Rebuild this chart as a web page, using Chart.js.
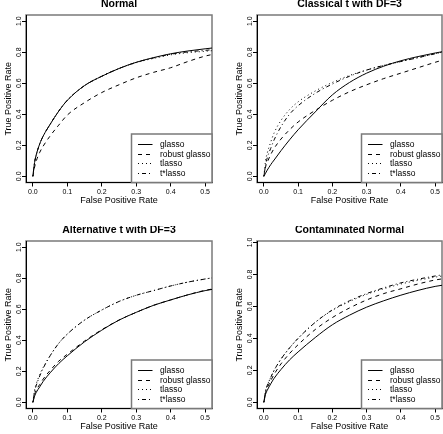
<!DOCTYPE html>
<html>
<head>
<meta charset="utf-8">
<script src="https://cdn.jsdelivr.net/npm/chart.js@4/dist/chart.umd.min.js"></script>
<style>
  body { margin: 0; width: 443px; height: 434px; overflow: hidden; background: #fff; position: relative; }
  .panel { position: absolute; }
</style>
</head>
<body>
<div class="panel" style="left:0px;top:0px"><canvas id="c1" width="222" height="217"></canvas></div>
<div class="panel" style="left:231px;top:0px"><canvas id="c2" width="212" height="217"></canvas></div>
<div class="panel" style="left:0px;top:226px"><canvas id="c3" width="222" height="217"></canvas></div>
<div class="panel" style="left:231px;top:226px"><canvas id="c4" width="212" height="217"></canvas></div>
<script>
// false positive rate grid, shared by all curves
const fpr = [0, 0.005, 0.01, 0.02, 0.03, 0.05, 0.075, 0.1, 0.15, 0.2, 0.25, 0.3, 0.35, 0.4, 0.45, 0.5, 0.52];
const methods = ['glasso', 'robust glasso', 'tlasso', 't*lasso'];
const xTicks = [0, 0.1, 0.2, 0.3, 0.4, 0.5];
const yTicks = [0, 0.2, 0.4, 0.6, 0.8, 1.0];

// Normal
const normalGlasso = [0, 0.09, 0.14, 0.21, 0.26, 0.335, 0.42, 0.49, 0.585, 0.645, 0.695, 0.735, 0.765, 0.79, 0.808, 0.822, 0.827];
const normalRobust = [0, 0.06, 0.1, 0.155, 0.195, 0.26, 0.33, 0.395, 0.475, 0.54, 0.59, 0.635, 0.67, 0.7, 0.74, 0.775, 0.785];
const normalTlasso = [0, 0.09, 0.14, 0.21, 0.26, 0.335, 0.42, 0.49, 0.585, 0.645, 0.695, 0.733, 0.76, 0.783, 0.797, 0.806, 0.81];
const normalTstar = [0, 0.09, 0.14, 0.21, 0.26, 0.335, 0.42, 0.49, 0.585, 0.645, 0.695, 0.735, 0.763, 0.787, 0.802, 0.812, 0.816];

// Classical t with DF=3
const classicGlasso = [0, 0.02, 0.04, 0.075, 0.105, 0.165, 0.235, 0.3, 0.415, 0.525, 0.605, 0.665, 0.71, 0.745, 0.772, 0.795, 0.803];
const classicRobust = [0, 0.06, 0.09, 0.14, 0.18, 0.24, 0.3, 0.35, 0.425, 0.49, 0.545, 0.59, 0.63, 0.665, 0.7, 0.735, 0.748];
const classicTlasso = [0, 0.1, 0.15, 0.22, 0.28, 0.36, 0.43, 0.48, 0.55, 0.605, 0.65, 0.685, 0.715, 0.74, 0.765, 0.79, 0.8];
const classicTstar = [0, 0.07, 0.12, 0.18, 0.235, 0.32, 0.4, 0.455, 0.535, 0.595, 0.645, 0.685, 0.715, 0.74, 0.765, 0.79, 0.8];

// Alternative t with DF=3
const altGlasso = [0, 0.04, 0.065, 0.1, 0.135, 0.19, 0.25, 0.3, 0.39, 0.465, 0.53, 0.58, 0.625, 0.66, 0.693, 0.72, 0.728];
const altRobust = [0, 0.05, 0.08, 0.115, 0.15, 0.205, 0.265, 0.31, 0.395, 0.468, 0.53, 0.58, 0.625, 0.66, 0.693, 0.722, 0.73];
const altTlasso = [0, 0.08, 0.12, 0.18, 0.225, 0.3, 0.38, 0.44, 0.53, 0.595, 0.65, 0.69, 0.72, 0.75, 0.775, 0.795, 0.802];
const altTstar = [0, 0.07, 0.11, 0.17, 0.22, 0.3, 0.38, 0.44, 0.53, 0.595, 0.65, 0.69, 0.72, 0.75, 0.775, 0.795, 0.802];

// Contaminated Normal
const contGlasso = [0, 0.05, 0.075, 0.115, 0.15, 0.205, 0.265, 0.315, 0.405, 0.485, 0.545, 0.595, 0.635, 0.67, 0.7, 0.725, 0.732];
const contRobust = [0, 0.06, 0.09, 0.135, 0.175, 0.24, 0.305, 0.36, 0.455, 0.53, 0.59, 0.64, 0.68, 0.71, 0.74, 0.765, 0.772];
const contTlasso = [0, 0.07, 0.105, 0.155, 0.2, 0.27, 0.34, 0.4, 0.5, 0.575, 0.63, 0.675, 0.71, 0.74, 0.763, 0.783, 0.79];
const contTstar = [0, 0.07, 0.105, 0.155, 0.2, 0.27, 0.34, 0.4, 0.5, 0.578, 0.635, 0.68, 0.716, 0.747, 0.77, 0.79, 0.797];

const dashes = [[], [4, 4], [1, 3], [1, 3, 4, 3]];
const FONT = '"Liberation Sans", Arial, Helvetica, sans-serif';
Chart.defaults.font.family = FONT;
Chart.defaults.color = '#000';

// grey box round the plot region + main title
const framePlugin = {
    id: 'frame',
    beforeDraw(chart, args, opts) {
        const ca = chart.chartArea;
        const ctx = chart.ctx;
        ctx.save();
        ctx.strokeStyle = '#7a7a7a';
        ctx.lineWidth = 1.5;
        ctx.strokeRect(ca.left, ca.top, ca.right - ca.left, ca.bottom - ca.top);
        ctx.fillStyle = '#000';
        ctx.font = 'bold 10.5px ' + FONT;
        ctx.textAlign = 'center';
        ctx.textBaseline = 'middle';
        ctx.fillText(opts.title, (ca.left + ca.right) / 2, ca.top - 10.5);
        ctx.restore();
    }
};

// legend box in the bottom right corner, like R's legend("bottomright")
const boxLegend = {
    id: 'boxLegend',
    afterDraw(chart) {
        const ca = chart.chartArea;
        const ctx = chart.ctx;
        const w = 80.5, h = 48.5;
        const left = ca.right - w, top = ca.bottom - h;
        ctx.save();
        ctx.fillStyle = '#fff';
        ctx.fillRect(left, top, w, h);
        ctx.strokeStyle = '#7a7a7a';
        ctx.lineWidth = 1.5;
        ctx.strokeRect(left, top, w, h);
        ctx.font = '8.5px ' + FONT;
        ctx.textBaseline = 'middle';
        chart.data.datasets.forEach((ds, i) => {
            const y = Math.round(top + 10 + i * 9.6) + 0.5;
            ctx.strokeStyle = '#000';
            ctx.lineWidth = 1;
            ctx.setLineDash(ds.borderDash);
            ctx.beginPath();
            ctx.moveTo(left + 6.5, y);
            ctx.lineTo(left + 21, y);
            ctx.stroke();
            ctx.setLineDash([]);
            ctx.fillStyle = '#000';
            ctx.fillText(ds.label, left + 28.5, y);
        });
        ctx.restore();
    }
};

function makeChart(id, title, series, yMin, yMax, padRight) {
    const datasets = methods.map((name, i) => ({
        label: name,
        data: fpr.map((x, j) => ({ x: x, y: series[i][j] })),
        borderColor: '#000',
        borderWidth: 1,
        borderDash: dashes[i],
        pointRadius: 0,
        cubicInterpolationMode: 'monotone',
        fill: false
    }));

    return new Chart(document.getElementById(id), {
        type: 'line',
        data: { datasets: datasets },
        options: {
            responsive: false,
            animation: false,
            events: [],
            layout: { padding: { top: 15, right: padRight, left: 0, bottom: 0 } },
            plugins: {
                legend: { display: false },
                tooltip: { enabled: false },
                frame: { title: title }
            },
            scales: {
                x: {
                    type: 'linear',
                    min: -0.02,
                    max: 0.52,
                    afterFit: s => { s.height = 34.5; },
                    afterBuildTicks: s => { s.ticks = xTicks.map(v => ({ value: v })); },
                    ticks: {
                        callback: v => v.toFixed(1),
                        font: { size: 7 },
                        color: '#000',
                        padding: 1.5,
                        maxRotation: 0,
                        minRotation: 0,
                        autoSkip: false
                    },
                    grid: { drawOnChartArea: false, tickLength: 4, color: '#000' },
                    border: { color: '#000' },
                    title: {
                        display: true,
                        text: 'False Positive Rate',
                        font: { size: 9 },
                        color: '#000',
                        padding: { top: 0, bottom: 11 }
                    }
                },
                y: {
                    type: 'linear',
                    min: yMin,
                    max: yMax,
                    afterFit: s => { s.width = 26; },
                    afterBuildTicks: s => { s.ticks = yTicks.map(v => ({ value: v })); },
                    ticks: {
                        callback: v => v.toFixed(1),
                        font: { size: 7 },
                        color: '#000',
                        padding: -1.5,
                        minRotation: 90,
                        maxRotation: 90,
                        crossAlign: 'center',
                        autoSkip: false
                    },
                    grid: { drawOnChartArea: false, tickLength: 4, color: '#000' },
                    border: { color: '#000' },
                    title: {
                        display: true,
                        text: 'True Positive Rate',
                        font: { size: 9 },
                        color: '#000',
                        padding: { top: 2.8, bottom: 0 }
                    }
                }
            }
        },
        plugins: [framePlugin, boxLegend]
    });
}

makeChart('c1', 'Normal', [normalGlasso, normalRobust, normalTlasso, normalTstar], -0.04, 1.04, 10);
makeChart('c2', 'Classical t with DF=3', [classicGlasso, classicRobust, classicTlasso, classicTstar], -0.04, 1.04, 1);
makeChart('c3', 'Alternative t with DF=3', [altGlasso, altRobust, altTlasso, altTstar], -0.04, 1.04, 10);
makeChart('c4', 'Contaminated Normal', [contGlasso, contRobust, contTlasso, contTstar], -0.039, 1.009, 1);
</script>
</body>
</html>
